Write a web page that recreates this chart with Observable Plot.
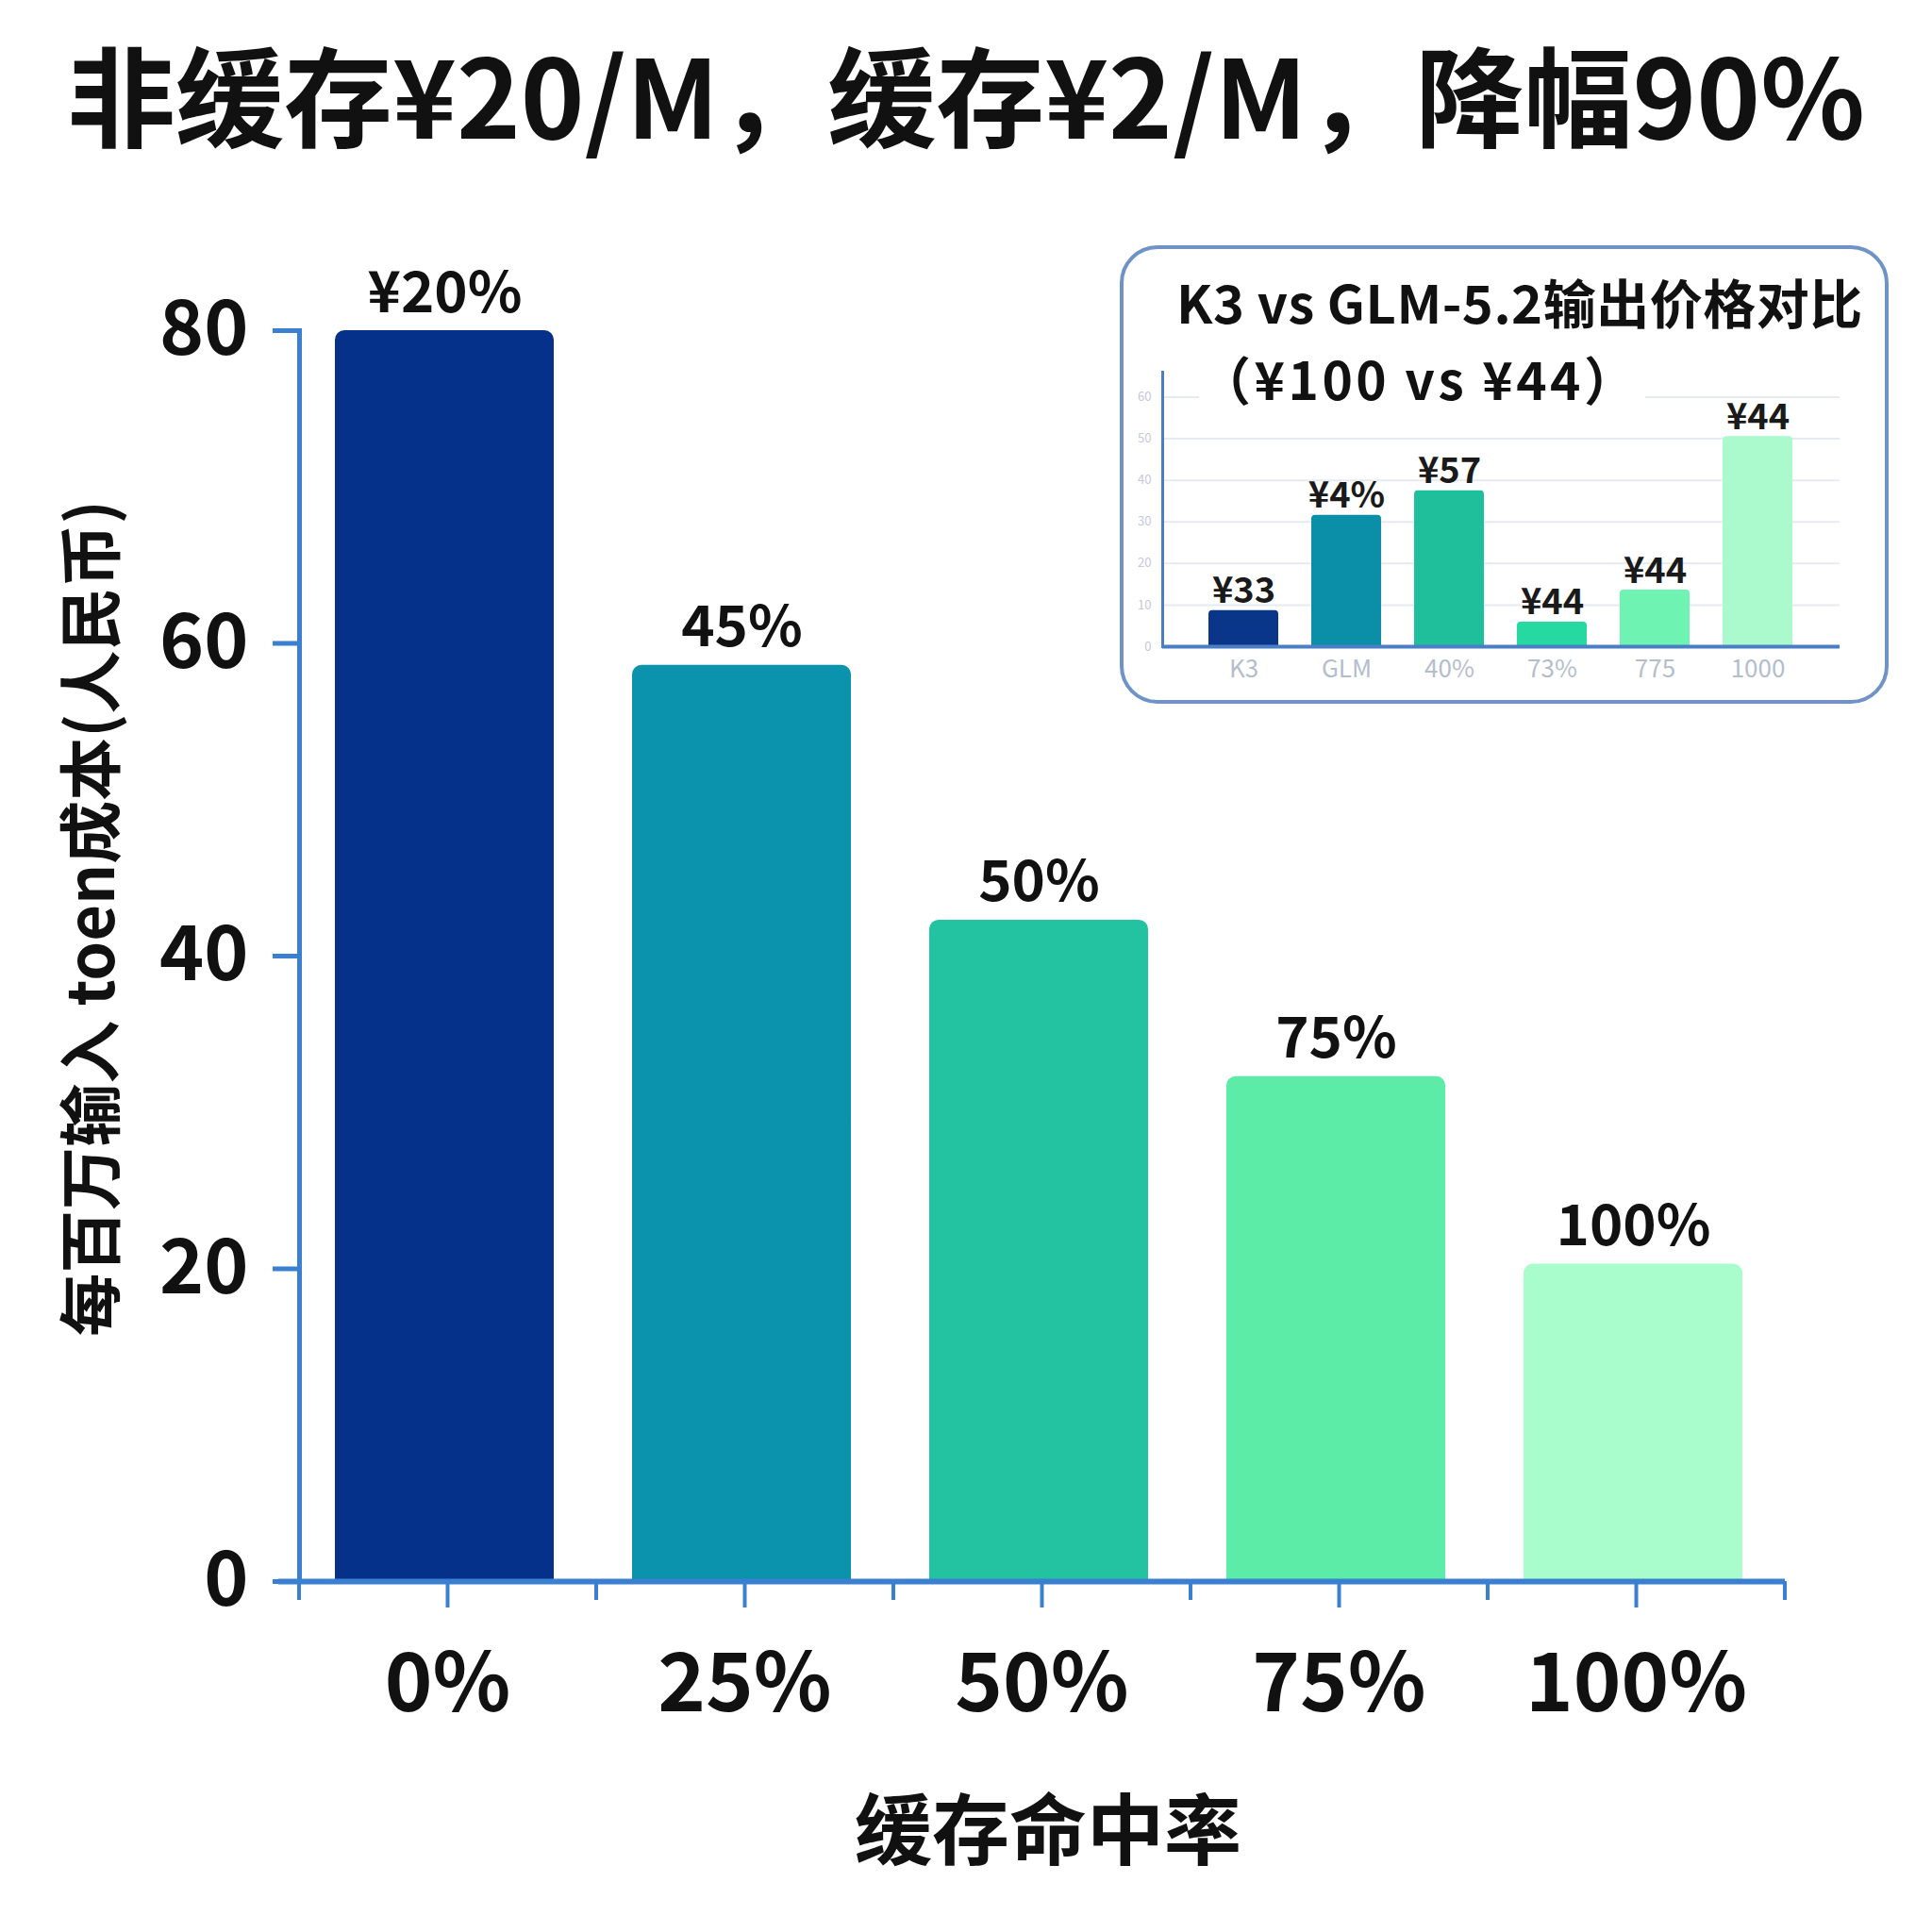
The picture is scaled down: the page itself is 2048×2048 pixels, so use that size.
<!DOCTYPE html>
<html>
<head>
<meta charset="utf-8">
<script src="https://cdn.jsdelivr.net/npm/d3@7"></script>
<script src="https://cdn.jsdelivr.net/npm/@observablehq/plot@0.6"></script>
<style>
html, body { margin: 0; padding: 0; background: #ffffff; }
#page { position: relative; width: 2048px; height: 2048px; overflow: hidden;
  font-family: "Noto Sans CJK SC", "Noto Sans", sans-serif; color: #111; }
#title { position: absolute; left: 0; top: 32px; width: 2048px; text-align: center;
  font-size: 115px; font-weight: 700; line-height: 130px; white-space: nowrap; }
#main { position: absolute; left: 0; top: 200px; }
#insetBox { position: absolute; left: 1187px; top: 260px; width: 807px; height: 478px;
  border: 4px solid #6f93c6; border-radius: 40px; background: #fff; }
.insetTitle { position: absolute; font-weight: 700; white-space: nowrap; line-height: 1; }
#insetT1 { left: 1247px; top: 291px; font-size: 56px; letter-spacing: 0.5px; }
#insetT2 { left: 1271px; top: 373px; font-size: 55px; letter-spacing: 3.5px; background: #fff; padding-right: 6px; }
#inset { position: absolute; left: 1186px; top: 380px; }
</style>
</head>
<body>
<div id="page">
  <div id="title"></div>
  <div id="main"></div>
  <div id="insetBox"></div>
  <div id="inset"></div>
  <div id="insetT1" class="insetTitle"></div>
  <div id="insetT2" class="insetTitle"></div>
</div>
<script>
// ---------- main chart data ----------
const titleText = "非缓存¥20/M，缓存¥2/M，降幅90%";
const categories = ["0%", "25%", "50%", "75%", "100%"];
const costs = [80, 58.6, 42.3, 32.3, 20.3];
const barLabels = ["¥20%", "45%", "50%", "75%", "100%"];
const barColors = ["#05318a", "#0b92ad", "#23c3a2", "#5deca8", "#a9fccb"];
const yTicks = [0, 20, 40, 60, 80];
const yLabel = "每百万输入 toen成本(人民币)";
const xLabel = "缓存命中率";

// ---------- inset data ----------
const insetTitle1 = "K3 vs GLM-5.2输出价格对比";
const insetTitle2 = "（¥100 vs ¥44）";
const insetCats = ["K3", "GLM", "40%", "73%", "775", "1000"];
const insetValues = [8.7, 31.6, 37.5, 5.9, 13.6, 50.5];
const insetLabels = ["¥33", "¥4%", "¥57", "¥44", "¥44", "¥44"];
const insetColors = ["#0a368a", "#0b8fa8", "#1fbf9c", "#25d9a0", "#6ef3b3", "#aafacd"];
const insetTicks = [0, 10, 20, 30, 40, 50, 60];

document.getElementById("title").textContent = titleText;
document.getElementById("insetT1").textContent = insetTitle1;
document.getElementById("insetT2").textContent = insetTitle2;

const font = "'Noto Sans CJK SC', 'Noto Sans', sans-serif";
const axisColor = "#3b80d0";

const rows = categories.map((c, i) => ({cat: c, v: costs[i], label: barLabels[i], color: barColors[i]}));

const W = 2048, mL = 317, mR = 156;
const step = (W - mL - mR) / categories.length;

const main = Plot.plot({
  width: W,
  height: 1848,
  marginLeft: mL,
  marginRight: mR,
  marginTop: 150,
  marginBottom: 372,
  style: {fontFamily: font, background: "transparent"},
  x: {domain: categories, paddingInner: 0.263, paddingOuter: 0.1315, axis: null},
  y: {domain: [0, 80], axis: null},
  color: {type: "identity"},
  marks: [
    Plot.barY(rows, {x: "cat", y: "v", fill: "color", rx: 10, dx: -3}),
    Plot.barY(rows, {x: "cat", y1: 0, y2: d => d.v / 2, fill: "color", dx: -3}),
    Plot.text(rows, {x: "cat", y: "v", text: "label", lineAnchor: "bottom", dy: -20, dx: -3,
      fontSize: 60, fontWeight: 700, fill: "#111"}),
    Plot.axisY(yTicks, {tickSize: 28, tickPadding: 26, fontSize: 80, fontWeight: 700,
      stroke: axisColor, strokeWidth: 5, fill: "#111", label: null}),
    Plot.frame({anchor: "left", stroke: axisColor, strokeWidth: 5}),
    Plot.ruleY([0], {stroke: axisColor, strokeWidth: 6, insetLeft: -22}),
    Plot.axisX({tickSize: 28, tickPadding: 48, fontSize: 86, fontWeight: 700,
      stroke: axisColor, strokeWidth: 4, fill: "#111", label: null}),
    Plot.ruleX(categories, {x: d => d, y1: 0, y2: 0, dx: -step / 2, insetBottom: -20,
      stroke: axisColor, strokeWidth: 4}),
    Plot.ruleX(categories.slice(-1), {x: d => d, y1: 0, y2: 0, dx: step / 2, insetBottom: -20,
      stroke: axisColor, strokeWidth: 4}),
    Plot.text([yLabel], {frameAnchor: "left", text: d => d, rotate: -90, dx: -218, dy: -40,
      fontSize: 67, fontWeight: 700, fill: "#111", textAnchor: "middle", lineAnchor: "middle"}),
    Plot.text([xLabel], {frameAnchor: "bottom", text: d => d, dy: 267, dx: 6,
      fontSize: 82, fontWeight: 700, fill: "#111", textAnchor: "middle", lineAnchor: "middle"})
  ]
});
document.getElementById("main").appendChild(main);

// ---------- inset chart ----------
const insetRows = insetCats.map((c, i) => ({cat: c, v: insetValues[i], label: insetLabels[i], color: insetColors[i]}));
const inset = Plot.plot({
  width: 816,
  height: 360,
  marginLeft: 46,
  marginRight: 52,
  marginTop: 14,
  marginBottom: 55,
  style: {fontFamily: font, background: "transparent"},
  x: {domain: insetCats, paddingInner: 0.32, paddingOuter: 0.16, insetLeft: 30, insetRight: 30, axis: null},
  y: {domain: [0, 66], axis: null},
  color: {type: "identity"},
  marks: [
    Plot.gridY(insetTicks, {stroke: "#e6ebf1", strokeOpacity: 1, strokeWidth: 2}),
    Plot.axisY(insetTicks, {tickSize: 0, tickPadding: 12, fontSize: 13, fill: "#c3cad6", label: null}),
    Plot.barY(insetRows, {x: "cat", y: "v", fill: "color", rx: 4}),
    Plot.barY(insetRows, {x: "cat", y1: 0, y2: d => d.v / 2, fill: "color"}),
    Plot.text(insetRows, {x: "cat", y: "v", text: "label", lineAnchor: "bottom", dy: -8,
      fontSize: 38, fontWeight: 700, fill: "#1a1a1a"}),
    Plot.frame({anchor: "left", stroke: "#4a7fc5", strokeWidth: 3}),
    Plot.ruleY([0], {stroke: "#4a7fc5", strokeWidth: 4}),
    Plot.axisX({tickSize: 0, tickPadding: 14, fontSize: 26, fill: "#b3becd", label: null})
  ]
});
document.getElementById("inset").appendChild(inset);
</script>
</body>
</html>
